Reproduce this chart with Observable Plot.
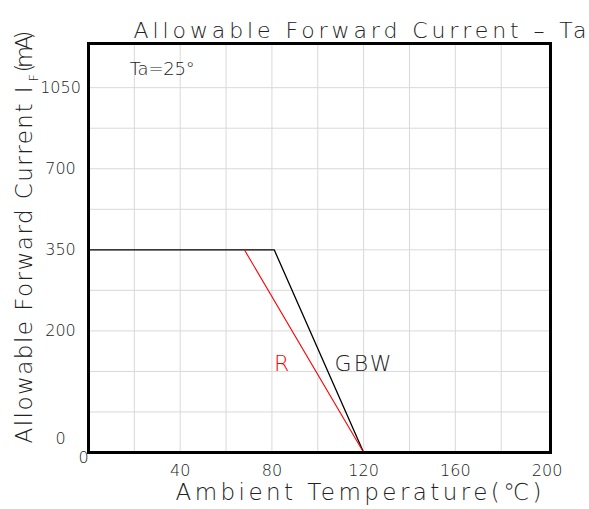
<!DOCTYPE html>
<html><head><meta charset="utf-8">
<script src="https://cdn.jsdelivr.net/npm/d3@7"></script>
<script src="https://cdn.jsdelivr.net/npm/@observablehq/plot@0.6"></script>
<style>
body{margin:0;background:#fff;}
#chart svg text{font-family:"DejaVu Sans",sans-serif;font-weight:200;}
</style></head><body><div id="chart"></div>
<script>
// Data
const xTickValues = [40, 80, 120, 160, 200];
const yTickValues = [200, 350, 700, 1050];
const gbwTemp = [0, 81, 120];
const gbwCurrent = [350, 350, 0];
const rTemp = [68, 120];
const rCurrent = [350, 0];
const xGridValues = [20, 40, 60, 80, 100, 120, 140, 160, 180];
const yGridValues = [66.7, 133.3, 200, 275, 350, 525, 700, 875, 1050];
// non-uniform current axis: breakpoints (mA) and their grid-row index
const yScaleBreaks = [0, 200, 350, 700, 1050, 1242];
const yScaleRows = [0, 3, 5, 7, 9, 10.09];
const titleText = "Allowable Forward Current – Ta";
const xLabelText = "Ambient Temperature(℃)";
const yLabelParts = ["Allowable Forward Current I", "F", "(mA)"];
const noteText = "Ta=25°";

const gbw = gbwTemp.map((t, i) => ({t, c: gbwCurrent[i]}));
const red = rTemp.map((t, i) => ({t, c: rCurrent[i]}));
const rowOf = d3.scaleLinear().domain(yScaleBreaks).range(yScaleRows);

const font = {fontFamily: "DejaVu Sans", fill: "#222"};

const chart = Plot.plot({
  width: 589, height: 509,
  marginLeft: 88, marginRight: 39, marginTop: 43, marginBottom: 57,
  x: {domain: [0, 201.5], axis: null},
  y: {transform: v => rowOf(v), domain: [0, 10.09], axis: null},
  style: {background: "#fff", overflow: "visible"},
  marks: [
    Plot.ruleX(xGridValues, {stroke: "#d9d9d9", strokeWidth: 1}),
    Plot.ruleY(yGridValues, {stroke: "#d9d9d9", strokeWidth: 1}),
    Plot.line(gbw, {x: "t", y: "c", stroke: "black", strokeWidth: 1.3}),
    Plot.line(red, {x: "t", y: "c", stroke: "#ff0000", strokeWidth: 1.1}),
    Plot.frame({stroke: "black", strokeWidth: 3}),
    // y tick labels
    Plot.text(yTickValues, {y: d => d, text: d => String(d), frameAnchor: "left", dx: -28, textAnchor: "middle", fontSize: 16, ...font}),
    Plot.text([0], {y: d => d, text: d => String(d), frameAnchor: "left", dx: -28, dy: -14, textAnchor: "middle", fontSize: 16, ...font}),
    // x tick labels
    Plot.text(xTickValues, {x: d => d, text: d => String(d), frameAnchor: "bottom", dy: 23, fontSize: 16, ...font}),
    Plot.text([0], {x: d => d, text: d => String(d), frameAnchor: "bottom", dx: -5, dy: 10, fontSize: 16, ...font}),
    // annotations
    Plot.text([noteText], {x: 18, y: 1132, text: d => d, textAnchor: "start", fontSize: 18, ...font, ariaDescription: "note"}),
    Plot.text(["R"], {x: 84.2, y: 146, text: d => d, fontSize: 22, fontFamily: "DejaVu Sans", fill: "#ff0000"}),
    Plot.text(["GBW"], {x: 119.7, y: 146, text: d => d, fontSize: 22, ...font, ariaDescription: "gbw"}),
    // titles
    Plot.text([titleText], {frameAnchor: "top", dx: 40.5, dy: -21, text: d => d, fontSize: 22, ...font, ariaDescription: "title"}),
    Plot.text([xLabelText], {frameAnchor: "bottom", dx: 39, dy: 47, text: d => d, fontSize: 23, ...font, ariaDescription: "xlabel"}),
    // y label in three parts (subscript F)
    Plot.text([yLabelParts[0]], {frameAnchor: "left", dx: -64, dy: 195.5, rotate: -90, textAnchor: "start", text: d => d, fontSize: 23, ...font, ariaDescription: "ylabel1"}),
    Plot.text([yLabelParts[1]], {frameAnchor: "left", dx: -55, dy: -166.5, rotate: -90, textAnchor: "start", text: d => d, fontSize: 13, ...font}),
    Plot.text([yLabelParts[2]], {frameAnchor: "left", dx: -64, dy: -175.5, rotate: -90, textAnchor: "start", text: d => d, fontSize: 23, ...font, ariaDescription: "ylabel3"})
  ]
});
document.getElementById("chart").appendChild(chart);

const svg = d3.select(chart);
function fit(label, len) {
  svg.selectAll(`g[aria-description="${label}"] text`).attr("textLength", len).attr("lengthAdjust", "spacing");
}
fit("title", 453);
fit("xlabel", 366);
fit("gbw", 57);
fit("note", 65);
fit("ylabel1", 357);
fit("ylabel3", 42);
</script></body></html>
